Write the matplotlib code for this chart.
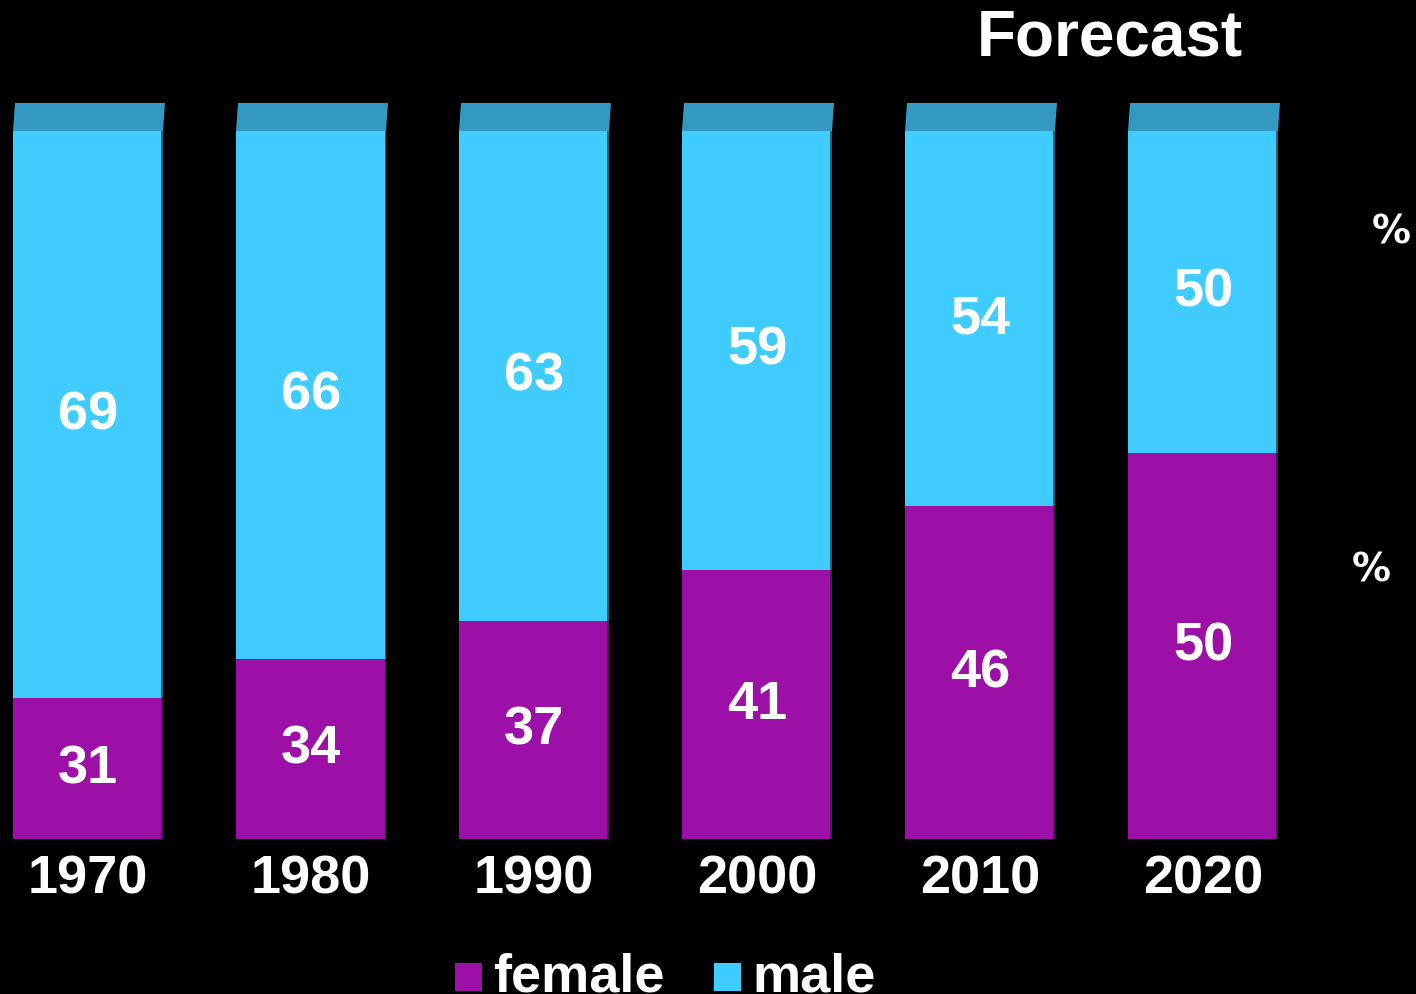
import matplotlib
matplotlib.use("Agg")
import matplotlib.pyplot as plt
from matplotlib.patches import Polygon, Rectangle

years = ["1970", "1980", "1990", "2000", "2010", "2020"]
# values printed on the bars
female_labels = [31, 34, 37, 41, 46, 50]
male_labels = [69, 66, 63, 59, 54, 50]
# bar split as drawn in the picture (share of bar height, %)
female_drawn = [19.9, 25.4, 30.8, 38.0, 47.0, 54.5]
male_drawn = [100 - f for f in female_drawn]

C_F = "#9C10A8"
C_M = "#40CCFF"
C_CAP = "#3399C0"
FONT = "Liberation Sans"

W, H = 1416, 994
fig = plt.figure(figsize=(W / 100, H / 100), dpi=100, facecolor="black")
ax = fig.add_axes([0, 0, 1, 1])
ax.set_facecolor("black")
ax.axis("off")

pxu = 223.0          # px per category
pyu = 7.08           # px per percent
x0px, y0px = 88, 839
ax.set_xlim(-x0px / pxu, (W - x0px) / pxu)
ax.set_ylim(-(H - y0px) / pyu, y0px / pyu)


def px(xp, yp):
    return ((xp - x0px) / pxu, (y0px - yp) / pyu)


bw = 150 / pxu
x = list(range(len(years)))
ax.bar(x, female_drawn, width=bw, color=C_F, edgecolor="none")
ax.bar(x, male_drawn, width=bw, bottom=female_drawn, color=C_M, edgecolor="none")

cap_h = 28 / pyu
skew = 2 / pxu
lab_off = 14.5 / pyu
for xi, fd, md, fl, ml in zip(x, female_drawn, male_drawn, female_labels, male_labels):
    top = fd + md
    l, r = xi - bw / 2, xi + bw / 2
    ax.add_patch(Polygon([(l, top), (l + skew, top + cap_h), (r + skew, top + cap_h), (r, top)],
                         closed=True, facecolor=C_CAP, edgecolor="none"))
    ax.add_patch(Rectangle((r - 1.5 / pxu, 0), 1.5 / pxu, top, facecolor="#1a1a2a",
                           edgecolor="none", alpha=0.6))
    ax.text(xi, fd / 2 - lab_off, str(fl), ha="center", va="baseline", color="white",
            fontsize=39, fontweight="bold", family=FONT)
    ax.text(xi, fd + md / 2 - lab_off, str(ml), ha="center", va="baseline", color="white",
            fontsize=39, fontweight="bold", family=FONT)
    ax.text(xi, px(0, 894)[1], years[xi], ha="center", va="baseline", color="white",
            fontsize=39, fontweight="bold", family=FONT)

ax.text(*px(1110, 55), "Forecast", ha="center", va="baseline", color="white", fontsize=46,
        fontweight="bold", family=FONT)
ax.text(*px(1391, 243), "%", ha="center", va="baseline", color="white", fontsize=28,
        fontweight="bold", family="DejaVu Sans")
ax.text(*px(1371, 582), "%", ha="center", va="baseline", color="white", fontsize=28,
        fontweight="bold", family="DejaVu Sans")

# legend
for sx, label, c in [(455, "female", C_F), (714, "male", C_M)]:
    lx, ly = px(sx, 991)
    ax.add_patch(Rectangle((lx, ly), 27 / pxu, 28 / pyu, facecolor=c, edgecolor="none"))
    ax.text(*px(sx + 38, 992), label, ha="left", va="baseline", color="white", fontsize=39,
            fontweight="bold", family=FONT)

fig.savefig("out.png", dpi=100, facecolor="black")
